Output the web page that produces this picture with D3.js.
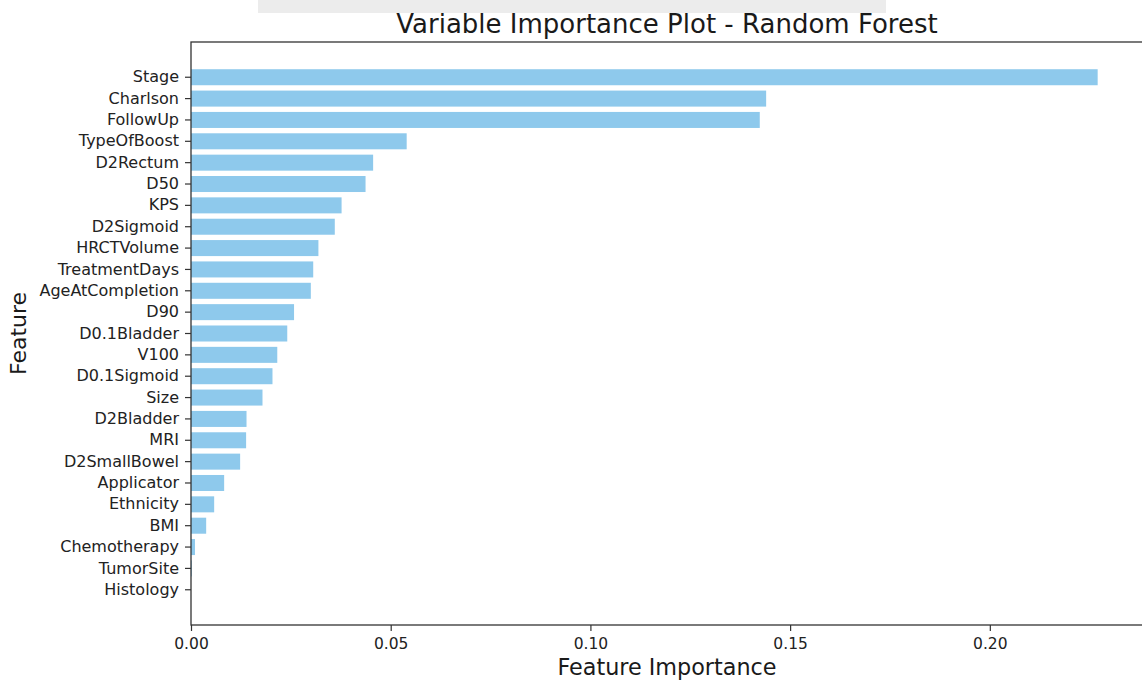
<!DOCTYPE html>
<html>
<head>
<meta charset="utf-8">
<script src="https://cdn.jsdelivr.net/npm/d3@7"></script>
<style>
  html, body { margin: 0; padding: 0; background: #fff; }
  svg { display: block; font-family: "DejaVu Sans", sans-serif; }
</style>
</head>
<body>
<svg id="chart" width="1142" height="684"></svg>
<script>
// Feature names, most important first
const features = [
  "Stage", "Charlson", "FollowUp", "TypeOfBoost", "D2Rectum", "D50", "KPS",
  "D2Sigmoid", "HRCTVolume", "TreatmentDays", "AgeAtCompletion", "D90",
  "D0.1Bladder", "V100", "D0.1Sigmoid", "Size", "D2Bladder", "MRI",
  "D2SmallBowel", "Applicator", "Ethnicity", "BMI", "Chemotherapy",
  "TumorSite", "Histology"
];

// Mean decrease in impurity for each feature
const importance = [
  0.227, 0.144, 0.1424, 0.054, 0.0456, 0.0437, 0.0377,
  0.036, 0.0319, 0.0306, 0.030, 0.0258,
  0.0241, 0.0216, 0.0204, 0.0179, 0.0139, 0.0138,
  0.0123, 0.0083, 0.0058, 0.0038, 0.001,
  0.0002, 0
];

const xTicks = [0, 0.05, 0.10, 0.15, 0.20];

const svg = d3.select("#chart");
const plot = { left: 191, right: 1143, top: 42, bottom: 625 };

// faint grey band along the top edge
svg.append("rect")
  .attr("x", 258).attr("y", 0).attr("width", 628).attr("height", 13)
  .attr("fill", "#ececec");

const x = d3.scaleLinear()
  .domain([0, d3.max(importance) * 1.05])
  .range([plot.left, plot.right]);

const y = d3.scaleBand()
  .domain(features)
  .range([plot.top, plot.bottom])
  .paddingInner(0.25)
  .paddingOuter(1.275);

// bars
svg.append("g")
  .selectAll("rect")
  .data(features)
  .join("rect")
  .attr("x", x(0))
  .attr("y", d => y(d))
  .attr("width", (d, i) => x(importance[i]) - x(0))
  .attr("height", y.bandwidth())
  .attr("fill", "#8ec9ec");

// frame
svg.append("rect")
  .attr("x", plot.left).attr("y", plot.top)
  .attr("width", plot.right - plot.left).attr("height", plot.bottom - plot.top)
  .attr("fill", "none").attr("stroke", "#333").attr("stroke-width", 1.3);

// y axis
const yAxis = svg.append("g")
  .attr("transform", `translate(${plot.left},0)`)
  .call(d3.axisLeft(y).tickSize(6).tickPadding(6));
yAxis.select(".domain").remove();
yAxis.selectAll("line").attr("stroke", "#333").attr("stroke-width", 1.2);
yAxis.selectAll("text").attr("font-size", 16).attr("fill", "#222")
  .attr("font-family", "DejaVu Sans");

// x axis
const xAxis = svg.append("g")
  .attr("transform", `translate(0,${plot.bottom})`)
  .call(d3.axisBottom(x).tickValues(xTicks).tickFormat(d3.format(".2f")).tickSize(6).tickPadding(7));
xAxis.select(".domain").remove();
xAxis.selectAll("line").attr("stroke", "#333").attr("stroke-width", 1.2);
xAxis.selectAll("text").attr("font-size", 15.5).attr("fill", "#222")
  .attr("font-family", "DejaVu Sans");

// title and axis labels
svg.append("text")
  .attr("x", (plot.left + plot.right) / 2).attr("y", 33)
  .attr("text-anchor", "middle").attr("font-size", 26).attr("fill", "#1a1a1a")
  .text("Variable Importance Plot - Random Forest");

svg.append("text")
  .attr("x", (plot.left + plot.right) / 2).attr("y", 675)
  .attr("text-anchor", "middle").attr("font-size", 22.3).attr("fill", "#1a1a1a")
  .text("Feature Importance");

svg.append("text")
  .attr("transform", `translate(26,${(plot.top + plot.bottom) / 2}) rotate(-90)`)
  .attr("text-anchor", "middle").attr("font-size", 22).attr("fill", "#1a1a1a")
  .text("Feature");
</script>
</body>
</html>
